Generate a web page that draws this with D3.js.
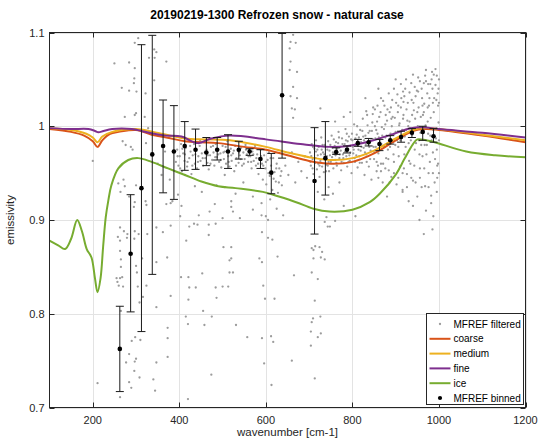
<!DOCTYPE html>
<html>
<head>
<meta charset="utf-8">
<script src="https://cdn.jsdelivr.net/npm/d3@7/dist/d3.min.js"></script>
<style>
  html, body { margin: 0; padding: 0; background: #fff; }
  svg { display: block; font-family: "Liberation Sans", Arial, Helvetica, sans-serif; }
</style>
</head>
<body>
<svg id="chart" width="543" height="441"></svg>
<script>
// ---- data ---------------------------------------------------------------
const titleText = "20190219-1300 Refrozen snow - natural case";
const xLabel = "wavenumber [cm-1]";
const yLabel = "emissivity";
const xTicks = [200, 400, 600, 800, 1000, 1200];
const yTicks = [0.7, 0.8, 0.9, 1, 1.1];
const yTickLabels = ["0.7", "0.8", "0.9", "1", "1.1"];

// modelled emissivity spectra [wavenumber, emissivity]
const coarse = [[100,0.997],[150,0.994],[180,0.990],[200,0.984],[211,0.978],[222,0.985],[240,0.992],[260,0.994],[300,0.996],[336,0.991],[370,0.988],[413,0.984],[450,0.983],[490,0.982],[550,0.978],[600,0.975],[650,0.969],[700,0.963],[750,0.960],[800,0.962],[850,0.971],[900,0.985],[940,0.995],[970,0.997],[1000,0.996],[1100,0.990],[1200,0.983]];
const medium = [[100,0.998],[150,0.996],[185,0.992],[200,0.988],[211,0.983],[222,0.989],[245,0.994],[300,0.997],[340,0.994],[413,0.987],[460,0.986],[517,0.985],[600,0.978],[650,0.972],[700,0.967],[750,0.964],[800,0.966],[850,0.974],[900,0.987],[940,0.996],[970,0.998],[1000,0.997],[1100,0.991],[1200,0.985]];
const fine = [[100,0.998],[150,0.997],[190,0.997],[205,0.995],[213,0.9935],[225,0.995],[245,0.997],[290,0.997],[313,0.995],[336,0.9925],[370,0.990],[405,0.989],[443,0.982],[474,0.987],[517,0.990],[600,0.986],[680,0.981],[747,0.978],[790,0.979],[840,0.984],[890,0.991],[932,0.9975],[960,0.999],[1000,0.997],[1100,0.993],[1200,0.988]];
const ice = [[100,0.878],[120,0.873],[136,0.869],[150,0.880],[164,0.900],[175,0.888],[186,0.869],[197,0.860],[205,0.838],[211,0.823],[218,0.838],[224,0.872],[230,0.903],[236,0.921],[243,0.937],[259,0.955],[282,0.964],[305,0.966],[336,0.962],[374,0.955],[413,0.948],[451,0.941],[490,0.936],[530,0.934],[593,0.930],[630,0.925],[670,0.919],[710,0.912],[747,0.909],[800,0.911],[840,0.919],[863,0.928],[901,0.949],[920,0.965],[940,0.981],[950,0.986],[970,0.985],[990,0.983],[1063,0.973],[1130,0.969],[1200,0.967]];

// binned measurements: centre, mean, lower and upper bar ends
const binWn   = [262.5,287.5,312.5,337.5,362.5,387.5,412.5,437.5,462.5,487.5,512.5,537.5,562.5,587.5,612.5,637.5,712.5,737.5,762.5,787.5,812.5,837.5,862.5,887.5,912.5,937.5,962.5,987.5];
const binMean = [0.7625,0.864,0.934,0.970,0.979,0.973,0.979,0.975,0.972,0.975,0.973,0.975,0.973,0.965,0.9505,1.033,0.9416,0.966,0.9725,0.975,0.982,0.983,0.981,0.985,0.9886,0.993,0.994,0.9893];
const binLow  = [0.717,0.802,0.781,0.842,0.929,0.922,0.953,0.954,0.958,0.964,0.955,0.965,0.969,0.955,0.928,0.966,0.885,0.9266,0.970,0.9715,0.9786,0.979,0.974,0.981,0.983,0.988,0.985,0.983];
const binHigh = [0.808,0.927,1.087,1.097,1.028,1.022,1.005,0.997,0.988,0.988,0.991,0.984,0.976,0.975,0.971,1.099,0.9985,1.005,0.977,0.979,0.986,0.987,0.986,0.990,0.9947,0.9975,1.000,0.9975];

// filtered single measurements [wavenumber, emissivity]
const filtered = [
  [305,1.094],[297,1.089],[250,1.067],[284,1.068],[297,1.062],[296,1.051],[295,1.046],[267,1.041],[284,1.038],[301,1.037],[322,1.035],[330,1.073],[342,1.082],[347,1.079],[343,1.073],[370,1.069],[342,1.049],
  [297,1.012],[300,1.014],[274,1.010],[320,1.010],[328,0.998],[269,0.984],[276,0.980],[288,0.978],[292,0.975],[200,0.963],[323,0.982],[367,0.973],[350,0.960],
  [259,0.939],[271,0.943],[274,0.936],[264,0.930],[300,0.937],[284,0.925],[322,0.920],[359,0.948],[378,0.943],[397,0.927],[413,0.948],[436,0.936],[452,0.930],[486,0.937],[505,0.948],[520,0.920],[470,0.909],[402,0.904],
  [297,0.919],[295,0.914],[324,0.916],[370,0.917],[380,0.918],[384,0.920],[405,0.915],[482,0.917],[520,0.914],
  [263,0.892],[272,0.888],[280,0.885],[297,0.888],[306,0.885],[279,0.881],[326,0.885],[347,0.892],[362,0.887],[380,0.894],[258,0.882],[263,0.878],
  [263,0.867],[265,0.858],[265,0.850],[255,0.838],[257,0.834],[260,0.830],[263,0.838],[268,0.839],[270,0.829],
  [296,0.880],[300,0.851],[302,0.844],[304,0.829],[314,0.859],[324,0.830],[308,0.812],[316,0.818],[347,0.855],[372,0.860],[380,0.819],[347,0.807],
  [404,0.839],[416,0.878],[415,0.797],[420,0.789],[421,0.839],[423,0.828],[421,0.815],[438,0.828],[453,0.843],[455,0.803],[458,0.788],[468,0.884],[475,0.797],[486,0.817],[484,0.828],[500,0.829],[502,0.871],[516,0.857],[516,0.844],
  [434,0.896],[442,0.895],[468,0.895],[484,0.896],[423,0.893],[500,0.902],[445,0.905],
  [265,0.803],[290,0.771],[284,0.757],[277,0.748],[297,0.749],[300,0.752],[296,0.739],[308,0.732],[289,0.721],[298,0.775],[310,0.772],[347,0.748],[340,0.730],[344,0.718],[373,0.785],[373,0.774],[373,0.754],[211,0.726],[263,0.711],[420,0.709],[474,0.735],[284,0.727],
  [663,1.0975],[657,1.090],[669,1.089],[655,1.083],[657,1.069],[655,1.060],[672,1.058],[663,1.042],[657,1.032],[672,1.030],[660,1.019],[667,1.018],[663,1.009],[726,1.019],
  [524,0.909],[540,0.902],[570,0.911],[590,0.905],[600,0.904],[605,0.900],[591,0.887],[605,0.881],[615,0.879],[520,0.871],[520,0.859],[524,0.844],[513,0.829],[585,0.859],[591,0.855],[627,0.861],[665,0.841],[594,0.830],[598,0.816],[620,0.816],[531,0.788],[557,0.775],[591,0.774],[612,0.776],[617,0.770],[596,0.747],[660,0.750],[613,0.724],
  [706,0.870],[710,0.868],[714,0.872],[724,0.871],[730,0.866],[710,0.859],[727,0.860],[736,0.858],[706,0.844],[720,0.837],[713,0.814],[709,0.795],[726,0.797],[706,0.791],[704,0.781],[727,0.779],[720,0.775],[704,0.766],[713,0.731],[736,0.898],[740,0.903],[743,0.893],
  [392,0.962],[395,0.975],[398,0.958],[401,0.968],[404,0.981],[406,0.952],[409,0.971],[412,0.963],[415,0.977],[418,0.957],[420,0.986],[423,0.966],[426,0.973],[428,0.949],[431,0.969],[434,0.981],[436,0.960],[439,0.975],[441,0.955],[444,0.968],[447,0.979],[449,0.963],[452,0.971],[455,0.958],[457,0.983],[460,0.966],[463,0.975],[465,0.961],[468,0.954],[471,0.969],[473,0.978],[476,0.964],[479,0.972],[481,0.958],[484,0.981],[487,0.967],[489,0.975],[492,0.962],[495,0.971],[497,0.956],[500,0.979],[503,0.965],[505,0.973],[508,0.960],[511,0.984],[513,0.968],[516,0.957],[519,0.976],[521,0.963],[524,0.971],[527,0.952],[529,0.979],[532,0.966],[535,0.974],[537,0.961],[540,0.969],[543,0.977],[545,0.958],[548,0.972],[551,0.965],[553,0.980],[556,0.970],[559,0.962],[561,0.975],[564,0.968],[567,0.955],[569,0.973],[572,0.963],[575,0.979],[577,0.958],[580,0.970],[583,0.949],[585,0.966],[588,0.975],[591,0.960],[593,0.943],[596,0.969],[599,0.955],[601,0.938],[604,0.964],[607,0.972],[609,0.947],[612,0.958],[615,0.932],[617,0.966],[620,0.951],[623,0.941],[625,0.960],[628,0.929],[631,0.955],[634,0.947],[637,0.937],
  [396,0.968],[402,0.955],[407,0.976],[413,0.970],[419,0.962],[425,0.979],[430,0.958],[437,0.970],[443,0.962],[448,0.985],[454,0.966],[459,0.972],[466,0.969],[472,0.960],[478,0.979],[483,0.967],[490,0.970],[496,0.964],[502,0.972],[507,0.978],[514,0.962],[520,0.969],[526,0.974],[531,0.958],[538,0.972],[542,0.965],[549,0.960],[554,0.975],[560,0.968],[566,0.962],[571,0.970],[578,0.966],[582,0.960],[589,0.968],[594,0.958],[600,0.962],[606,0.950],[611,0.966],[618,0.944],[624,0.955],[630,0.940],[636,0.952],
  [505,0.935],[530,0.928],[548,0.940],[570,0.925],[590,0.918],[610,0.922],[625,0.912],[640,0.905],
  [645,0.958],[652,0.948],[660,0.972],[668,0.940],[675,0.962],[682,0.952],[690,0.968],[695,0.945],
  [702,0.972],[704,0.958],[706,0.981],[708,0.965],[710,0.949],[712,0.976],[714,0.961],[716,0.985],[718,0.954],[720,0.969],[722,0.978],[724,0.946],[726,0.963],[728,0.988],[730,0.957],[732,0.972],[734,0.951],[736,0.980],[738,0.966],[740,0.959],[742,0.975],[744,0.984],[746,0.952],[748,0.969],[750,0.962],[752,0.990],[754,0.977],[756,0.955],[758,0.971],[760,0.964],
  [762,0.983],[764,0.958],[766,0.972],[768,0.994],[770,0.966],[772,0.978],[774,0.953],[776,0.987],[778,0.970],[780,0.961],[782,0.981],[784,0.997],[786,0.968],[788,0.957],[790,0.976],[792,0.989],[794,0.963],[796,0.979],[798,0.950],[800,0.985],[802,0.971],[804,1.002],[806,0.962],[808,0.980],[810,0.991],[812,0.956],[814,0.975],[816,0.968],[818,0.996],[820,0.983],
  [822,0.961],[824,1.008],[826,0.977],[828,0.948],[830,0.990],[832,0.970],[834,1.012],[836,0.982],[838,0.957],[840,0.995],[842,0.974],[844,0.943],[846,1.004],[848,0.986],[850,0.965],[852,1.018],[854,0.978],[856,0.952],[858,0.992],[860,0.971],[862,1.010],[864,0.984],[866,0.960],[868,0.999],[870,0.940],[872,0.979],[874,1.022],[876,0.988],[878,0.966],[880,1.006],
  [882,0.975],[884,0.953],[886,1.015],[888,0.992],[890,0.946],[892,1.028],[894,0.983],[896,0.962],[898,1.009],[900,0.994],[902,0.938],[904,1.034],[906,0.978],[908,1.001],[910,0.957],[912,1.020],[914,0.988],[916,0.932],[918,1.012],[920,0.970],[922,1.040],[924,0.996],[926,0.949],[928,1.025],[930,0.982],[932,1.005],[934,0.960],[936,1.046],[938,0.991],[940,0.942],
  [942,1.017],[944,0.975],[946,1.032],[948,0.998],[950,0.925],[952,1.052],[954,0.985],[956,0.955],[958,1.010],[960,1.040],[962,0.968],[964,0.994],[966,1.024],[968,0.936],[970,1.048],[972,0.980],[974,1.005],[976,0.950],[978,1.030],[980,0.990],[982,0.918],[984,1.058],[986,0.972],[988,1.015],[990,0.940],[992,1.044],[994,0.998],[996,0.958],[998,1.022],[1000,0.985],
  [705,0.968],[713,0.962],[719,0.975],[727,0.970],[733,0.965],[741,0.968],[747,0.974],[753,0.967],[759,0.979],[765,0.976],[771,0.970],[777,0.981],[783,0.973],[789,0.984],[795,0.972],[801,0.978],[807,0.987],[813,0.979],[819,0.974],[825,0.989],[831,0.981],[837,0.993],[843,0.985],[849,0.978],[855,0.996],[861,0.988],[867,0.981],[873,0.997],[879,0.990],[885,0.984],[891,1.000],[897,0.992],[903,0.985],[909,1.003],[915,0.996],[921,0.989],[927,1.006],[933,0.998],[939,0.992],[945,1.008],[951,1.000],[957,0.993],[963,1.012],[969,1.001],[975,0.992],[981,1.009],[987,0.996],[993,0.987],[999,1.004],
  [708,0.955],[716,0.973],[724,0.958],[731,0.980],[739,0.952],[745,0.962],[757,0.986],[763,0.961],[769,0.988],[775,0.962],[787,0.992],[793,0.969],[799,0.992],[805,0.966],[811,1.000],[817,0.961],[823,0.995],[829,0.972],[835,1.001],[841,0.965],[847,1.013],[853,0.987],[859,0.958],[865,1.015],[871,0.960],[877,1.012],[883,0.965],[889,1.020],[895,0.970],[901,1.025],[907,0.968],[913,1.030],[919,0.955],[925,1.018],[931,0.963],[937,1.028],[943,0.958],[949,1.038],[955,0.970],[961,1.030],[967,0.980],[973,1.035],[979,0.962],[985,1.040],[991,0.965],[997,1.035],
  [703,0.962],[709,0.978],[715,0.966],[721,0.960],[729,0.975],[735,0.970],[743,0.958],[749,0.980],[755,0.972],[761,0.969],[767,0.982],[773,0.974],[779,0.966],[785,0.985],[791,0.962],[797,0.986],[803,0.975],[809,0.969],[815,0.988],[821,0.978],[827,0.985],[833,0.962],[839,0.978],[845,0.995],[851,0.972],[857,1.005],[863,0.975],[869,0.990],[875,0.978],[881,1.018],[887,0.978],[893,1.010],[899,0.980],[905,1.015],[911,0.985],[917,1.008],[923,0.978],[929,1.000],[935,0.985],[941,1.025],[947,0.982],[953,1.020],[959,0.980],[965,1.015],[971,0.970],[977,1.022],[983,0.985],[989,1.030],[995,0.975],
  [852,1.000],[858,1.022],[866,1.030],[876,1.002],[884,1.035],[890,1.008],[896,1.040],[906,1.022],[912,1.045],[918,1.026],[924,1.050],[932,1.036],[938,1.012],[944,1.042],[950,1.015],[956,1.048],[962,1.022],[968,1.054],[974,1.020],[980,1.045],[986,1.025],[994,1.028],[999,1.040],
  [856,0.962],[866,0.952],[876,0.955],[886,0.940],[896,0.950],[906,0.945],[916,0.950],[926,0.935],[936,0.945],[946,0.940],[956,0.945],[966,0.955],[976,0.935],[986,0.950],[996,0.945],
  [992,1.061],[988,1.055],[995,1.054],[983,1.050],[975,1.045],[965,1.046],[952,1.037],[917,1.037],[920,1.032],[871,1.027],[848,1.020],[832,1.016],[916,0.930],[982,0.926],[987,0.904],[807,0.904],[860,0.945],[880,0.925],[940,0.915],[955,0.900],[970,0.910],[930,0.920],[995,0.930],[1000,0.950],[985,0.890],[965,0.885],[960,0.935],[998,0.960],[760,1.005],[780,1.010],[795,1.015],[830,1.030],[860,1.040],[900,1.050],[940,1.055],[970,1.060],[1000,1.050],[1000,1.025],
  [720,0.930],[735,0.922],[745,0.935],[755,0.928],[770,0.940],[780,0.915],[748,0.893],[760,0.899]
];

const series = [
  { name: "coarse", data: coarse, color: "#D95319" },
  { name: "medium", data: medium, color: "#EDB120" },
  { name: "fine",   data: fine,   color: "#7E2F8E" },
  { name: "ice",    data: ice,    color: "#77AC30" }
];

// ---- layout -------------------------------------------------------------
const svg = d3.select("#chart");
const plot = { left: 49.5, right: 525.5, top: 32.5, bottom: 407.5 };
const axisColor = "#262626";
const dotColor = "#9c9c9c";

const x = d3.scaleLinear().domain([100, 1200]).range([plot.left, plot.right]);
const y = d3.scaleLinear().domain([0.7, 1.1]).range([plot.bottom, plot.top]);

svg.append("defs").append("clipPath").attr("id", "clip")
  .append("rect")
  .attr("x", plot.left).attr("y", plot.top)
  .attr("width", plot.right - plot.left).attr("height", plot.bottom - plot.top);

// grid
const grid = svg.append("g").attr("stroke", "#e3e3e3").attr("stroke-width", 1);
grid.selectAll("line.gx").data(xTicks).join("line")
  .attr("x1", d => Math.round(x(d)) + 0.5).attr("x2", d => Math.round(x(d)) + 0.5)
  .attr("y1", plot.top).attr("y2", plot.bottom);
grid.selectAll("line.gy").data(yTicks).join("line")
  .attr("y1", d => Math.round(y(d)) + 0.5).attr("y2", d => Math.round(y(d)) + 0.5)
  .attr("x1", plot.left).attr("x2", plot.right);

const marks = svg.append("g").attr("clip-path", "url(#clip)");

// filtered measurements
marks.append("g").selectAll("circle").data(filtered).join("circle")
  .attr("cx", d => x(d[0])).attr("cy", d => y(d[1]))
  .attr("r", 1.15).attr("fill", dotColor);

// model spectra
const line = d3.line().x(d => x(d[0])).y(d => y(d[1])).curve(d3.curveCatmullRom.alpha(0.5));
marks.append("g").selectAll("path").data(series).join("path")
  .attr("d", d => line(d.data))
  .attr("fill", "none")
  .attr("stroke", d => d.color)
  .attr("stroke-width", 2)
  .attr("stroke-linejoin", "round");

// binned measurements with error bars
const bins = binWn.map((w, i) => ({ w, m: binMean[i], lo: binLow[i], hi: binHigh[i] }));
const eb = marks.append("g").attr("stroke", "#1a1a1a").attr("stroke-width", 1);
const cap = 4;
eb.selectAll("line.v").data(bins).join("line")
  .attr("x1", d => x(d.w)).attr("x2", d => x(d.w))
  .attr("y1", d => y(d.lo)).attr("y2", d => y(d.hi));
eb.selectAll("line.t").data(bins).join("line")
  .attr("x1", d => x(d.w) - cap).attr("x2", d => x(d.w) + cap)
  .attr("y1", d => y(d.hi)).attr("y2", d => y(d.hi));
eb.selectAll("line.b").data(bins).join("line")
  .attr("x1", d => x(d.w) - cap).attr("x2", d => x(d.w) + cap)
  .attr("y1", d => y(d.lo)).attr("y2", d => y(d.lo));
marks.append("g").selectAll("circle").data(bins).join("circle")
  .attr("cx", d => x(d.w)).attr("cy", d => y(d.m))
  .attr("r", 2.3).attr("fill", "#000");

// axes box with inward ticks on all sides
const tickLen = 5;
const axes = svg.append("g").attr("stroke", axisColor).attr("stroke-width", 1);
axes.append("rect")
  .attr("x", plot.left).attr("y", plot.top)
  .attr("width", plot.right - plot.left).attr("height", plot.bottom - plot.top)
  .attr("fill", "none");
xTicks.forEach(t => {
  const px = Math.round(x(t)) + 0.5;
  axes.append("line").attr("x1", px).attr("x2", px).attr("y1", plot.bottom).attr("y2", plot.bottom - tickLen);
  axes.append("line").attr("x1", px).attr("x2", px).attr("y1", plot.top).attr("y2", plot.top + tickLen);
});
yTicks.forEach(t => {
  const py = Math.round(y(t)) + 0.5;
  axes.append("line").attr("y1", py).attr("y2", py).attr("x1", plot.left).attr("x2", plot.left + tickLen);
  axes.append("line").attr("y1", py).attr("y2", py).attr("x1", plot.right).attr("x2", plot.right - tickLen);
});

// tick labels
svg.append("g").selectAll("text").data(xTicks).join("text")
  .attr("x", d => x(d)).attr("y", plot.bottom + 16)
  .attr("text-anchor", "middle").attr("font-size", 11).attr("fill", axisColor)
  .text(d => d);
svg.append("g").selectAll("text").data(yTicks).join("text")
  .attr("x", plot.left - 5).attr("y", d => y(d) + 4)
  .attr("text-anchor", "end").attr("font-size", 11).attr("fill", axisColor)
  .text((d, i) => yTickLabels[i]);

// axis titles and chart title
svg.append("text")
  .attr("x", (plot.left + plot.right) / 2).attr("y", 436)
  .attr("text-anchor", "middle").attr("font-size", 11.5).attr("fill", axisColor)
  .text(xLabel);
svg.append("text")
  .attr("transform", `translate(14,${(plot.top + plot.bottom) / 2}) rotate(-90)`)
  .attr("text-anchor", "middle").attr("font-size", 11.5).attr("fill", axisColor)
  .text(yLabel);
svg.append("text")
  .attr("x", 277).attr("y", 19)
  .attr("text-anchor", "middle").attr("font-size", 12).attr("font-weight", "bold").attr("fill", "#000")
  .text(titleText);

// legend
const legendItems = [
  { label: "MFREF filtered", kind: "dot", color: dotColor, r: 1.15 },
  { label: "coarse", kind: "line", color: "#D95319" },
  { label: "medium", kind: "line", color: "#EDB120" },
  { label: "fine",   kind: "line", color: "#7E2F8E" },
  { label: "ice",    kind: "line", color: "#77AC30" },
  { label: "MFREF binned", kind: "dot", color: "#000", r: 2.1 }
];
const lg = svg.append("g").attr("transform", "translate(426.5,313.5)");
lg.append("rect").attr("width", 97).attr("height", 91)
  .attr("fill", "#fff").attr("stroke", axisColor).attr("stroke-width", 1);
const row = lg.selectAll("g").data(legendItems).join("g")
  .attr("transform", (d, i) => `translate(0,${10.5 + i * 14.8})`);
row.filter(d => d.kind === "line").append("line")
  .attr("x1", 3).attr("x2", 24).attr("y1", 0).attr("y2", 0)
  .attr("stroke", d => d.color).attr("stroke-width", 2);
row.filter(d => d.kind === "dot").append("circle")
  .attr("cx", 13.5).attr("cy", 0).attr("r", d => d.r).attr("fill", d => d.color);
row.append("text").attr("x", 27).attr("y", 3.6)
  .attr("font-size", 10).attr("fill", "#000")
  .text(d => d.label);
</script>
</body>
</html>
